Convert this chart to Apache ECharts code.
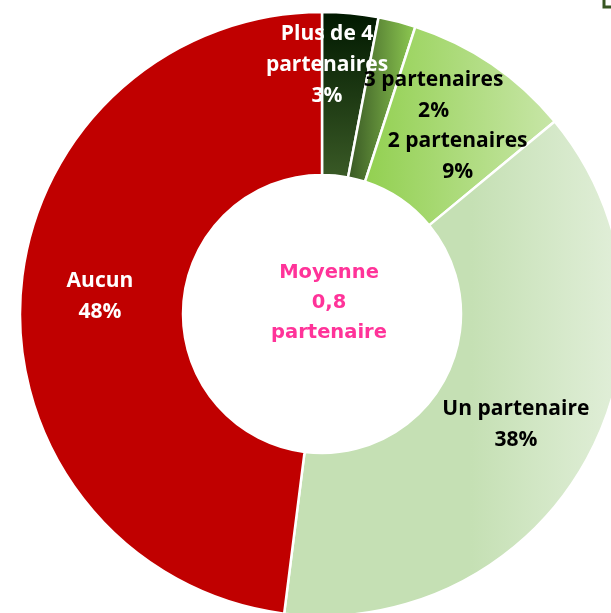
<!DOCTYPE html>
<html>
<head>
<meta charset="utf-8">
<script src="https://cdn.jsdelivr.net/npm/echarts@6/dist/echarts.min.js"></script>
<style>
  html, body { margin: 0; padding: 0; background: #fff; }
  #chart { width: 611px; height: 613px; }
</style>
</head>
<body>
<div id="chart"></div>
<script>
// Répartition par nombre de partenaires (en %)
const categories = ['Plus de 4\npartenaires', '3 partenaires', '2 partenaires', 'Un partenaire', 'Aucun'];
const values = [3, 2, 9, 38, 48];
const centerText = ['Moyenne', '0,8', 'partenaire'];

// Slice fills
const grad = (x2, y2, c0, c1, mid) => ({
  type: 'linear', x: 0, y: 0, x2: x2, y2: y2,
  colorStops: mid
    ? [{ offset: 0, color: c0 }, { offset: mid, color: c0 }, { offset: 1, color: c1 }]
    : [{ offset: 0, color: c0 }, { offset: 1, color: c1 }]
});
const fills = [
  grad(0, 1, '#001800', '#3a5a26'),
  grad(1, 0, '#375623', '#8fcb52'),
  grad(1, 0, '#92d050', '#c8e6a8'),
  grad(1, 0, '#c5e0b4', '#e2efda', 0.55),
  '#c00000'
];
const labelColors = ['#ffffff', '#000000', '#000000', '#000000', '#ffffff'];
// Label nudges relative to the default inside position
const labelShift = [[-16, -26], [56, -2], [10, 27], [-2, 3], [1, -3]];

const chart = echarts.init(document.getElementById('chart'), null, { renderer: 'canvas' });
chart.setOption({
  animation: false,
  graphic: [
    {
      type: 'text',
      x: 329, y: 303,
      style: {
        text: centerText.join('\n'),
        fill: '#ff3399',
        font: 'bold 19.5px "DejaVu Sans"',
        lineHeight: 30,
        align: 'center', verticalAlign: 'middle'
      }
    },
    {
      type: 'rect',
      shape: { x: 604, y: -2, width: 9, height: 9 },
      style: { fill: '#fff', stroke: '#375623', lineWidth: 3 }
    }
  ],
  series: [{
    type: 'pie',
    center: [322, 314],
    radius: [139, 302],
    startAngle: 90,
    clockwise: true,
    avoidLabelOverlap: false,
    itemStyle: { borderColor: '#ffffff', borderWidth: 2.5 },
    label: {
      show: true,
      position: 'inside',
      fontFamily: 'Open Sans',
      fontWeight: 'bold',
      fontSize: 21,
      lineHeight: 31,
      formatter: p => p.name + '\n' + p.value + '%'
    },
    labelLayout: p => ({ dx: labelShift[p.dataIndex][0], dy: labelShift[p.dataIndex][1] }),
    emphasis: { disabled: true },
    data: categories.map((c, i) => ({
      name: c,
      value: values[i],
      itemStyle: { color: fills[i] },
      label: { color: labelColors[i] }
    }))
  }]
});
</script>
</body>
</html>
